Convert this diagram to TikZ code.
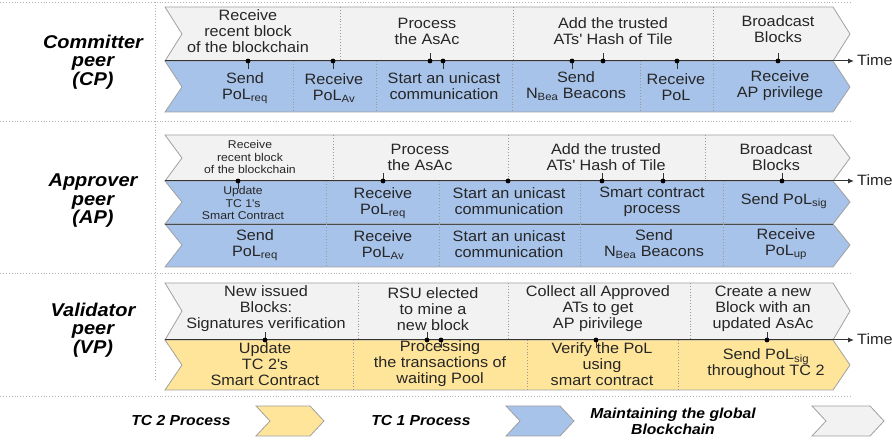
\documentclass[tikz,border=0pt]{standalone}
\usepackage{fontspec}
\setmainfont{Liberation Sans}[FakeStretch=1.08]
\usetikzlibrary{arrows.meta}

\definecolor{chaingray}{HTML}{F2F2F2}
\definecolor{tcblue}{HTML}{A7C3EA}
\definecolor{tcyellow}{HTML}{FFE59A}
\definecolor{edgegray}{HTML}{A0A0A0}

\tikzset{
  band/.style={draw=edgegray, line width=0.8pt},
  sep/.style={draw=gray!80, dotted, line width=0.9pt},
  frame/.style={draw=gray!60, dotted, line width=0.9pt},
  txt/.style={align=center, font=\fontsize{15}{16}\selectfont, text=black!85, inner sep=0pt},
  smalltxt/.style={align=center, font=\fontsize{11.3}{12.5}\selectfont, text=black!85, inner sep=0pt},
  peer/.style={align=center, font=\fontsize{18.5}{18.5}\selectfont\bfseries\itshape, inner sep=0pt},
  legend/.style={align=center, font=\fontsize{14.5}{16}\selectfont\bfseries\itshape, inner sep=0pt},
  timeline/.style={draw=black!80, line width=1pt, -{Latex[length=6pt,width=5pt]}},
  event/.style={circle, fill=black, inner sep=0pt, minimum size=4.8pt},
  tick/.style={draw=black!80, line width=0.8pt},
}

\begin{document}
\begin{tikzpicture}[x=1pt, y=-1pt]
  \useasboundingbox (0,0) rectangle (892,443);

  % frame lines
  \draw[frame] (0,2) -- (850,2);
  \draw[frame] (0,121) -- (850,121);
  \draw[frame] (0,273) -- (850,273);
  \draw[frame] (0,396) -- (850,396);
  \draw[frame] (155,2) -- (155,380);

  % peers
  \node[peer] (cp) at (93,62) {Committer\\peer\\(CP)};
  \node[peer] (ap) at (93,201) {Approver\\peer\\(AP)};
  \node[peer] (vp) at (93,330) {Validator\\peer\\(VP)};

  % ---- committer peer ----
  \filldraw[band, fill=chaingray] (165,7) -- (833,7) -- (850,34) -- (833,61) -- (165,61) -- (182,34) -- cycle;
  \filldraw[band, fill=tcblue] (165,61) -- (833,61) -- (850,87) -- (833,112) -- (165,112) -- (182,87) -- cycle;
  \draw[sep] (340,7) -- (340,61);
  \draw[sep] (513,7) -- (513,61);
  \draw[sep] (713,7) -- (713,61);
  \draw[sep] (293,61) -- (293,112);
  \draw[sep] (376,61) -- (376,112);
  \draw[sep] (512,61) -- (512,112);
  \draw[sep] (640,61) -- (640,112);
  \draw[sep] (713,61) -- (713,112);

  \node[txt] (cpg1) at (248,31) {Receive\\recent block\\of the blockchain};
  \node[txt] (cpg2) at (427,31) {Process\\the AsAc};
  \node[txt] (cpg3) at (613,31) {Add the trusted\\ATs\textquotesingle{} Hash of Tile};
  \node[txt] (cpg4) at (778,29) {Broadcast\\Blocks};
  \node[txt] (cpb1) at (245,88) {Send\\PoL\textsubscript{req}};
  \node[txt] (cpb2) at (334,88) {Receive\\PoL\textsubscript{Av}};
  \node[txt] (cpb3) at (444,86) {Start an unicast\\communication};
  \node[txt] (cpb4) at (576,86) {Send\\N\textsubscript{Bea} Beacons};
  \node[txt] (cpb5) at (676,87) {Receive\\PoL};
  \node[txt] (cpb6) at (780,86) {Receive\\AP privilege};

  \coordinate (cpstart) at (165,61);
  \coordinate (cpend) at (854,61);
  \draw[timeline] (cpstart) -- (cpend);
  \node[txt, anchor=west] (cptime) at (857,60) {Time};

  \draw[tick] (248,61) -- ++(0,8);
  \draw[tick] (333,61) -- ++(0,8);
  \draw[tick] (430,61) -- ++(0,-8);
  \draw[tick] (443,61) -- ++(0,8);
  \draw[tick] (572,61) -- ++(0,8);
  \draw[tick] (603,61) -- ++(0,-8);
  \draw[tick] (677,61) -- ++(0,8);
  \draw[tick] (778,61) -- ++(0,-8);
  \node[event] (cpe1) at (248,61) {};
  \node[event] (cpe2) at (333,61) {};
  \node[event] (cpe3) at (430,61) {};
  \node[event] (cpe4) at (443,61) {};
  \node[event] (cpe5) at (572,61) {};
  \node[event] (cpe6) at (603,61) {};
  \node[event] (cpe7) at (677,61) {};
  \node[event] (cpe8) at (778,61) {};

  % ---- approver peer ----
  \filldraw[band, fill=chaingray] (165,135) -- (833,135) -- (850,158) -- (833,181) -- (165,181) -- (182,158) -- cycle;
  \filldraw[band, fill=tcblue] (165,181) -- (833,181) -- (850,202) -- (833,224) -- (165,224) -- (182,202) -- cycle;
  \filldraw[band, fill=tcblue] (165,224) -- (833,224) -- (850,245) -- (833,267) -- (165,267) -- (182,245) -- cycle;
  \draw[black!70, line width=0.9pt] (165,224) -- (833,224);
  \draw[sep] (333,135) -- (333,181);
  \draw[sep] (508,135) -- (508,181);
  \draw[sep] (705,135) -- (705,181);
  \draw[sep] (326,181) -- (326,267);
  \draw[sep] (439,181) -- (439,267);
  \draw[sep] (580,181) -- (580,267);
  \draw[sep] (723,181) -- (723,267);

  \node[smalltxt] (apg1) at (250,157) {Receive\\recent block\\of the blockchain};
  \node[txt] (apg2) at (420,157) {Process\\the AsAc};
  \node[txt] (apg3) at (606,157) {Add the trusted\\ATs\textquotesingle{} Hash of Tile};
  \node[txt] (apg4) at (776,157) {Broadcast\\Blocks};
  \node[smalltxt] (apb1) at (243,203) {Update\\TC 1\textquotesingle{}s\\Smart Contract};
  \node[txt] (apb2) at (383,203) {Receive\\PoL\textsubscript{req}};
  \node[txt] (apb3) at (509,201) {Start an unicast\\communication};
  \node[txt] (apb4) at (652,202) {Smart contract\\process};
  \node[txt] (apb5) at (784,201) {Send PoL\textsubscript{sig}};
  \node[txt] (apc1) at (255,245) {Send\\PoL\textsubscript{req}};
  \node[txt] (apc2) at (383,245) {Receive\\PoL\textsubscript{Av}};
  \node[txt] (apc3) at (509,244) {Start an unicast\\communication};
  \node[txt] (apc4) at (654,244) {Send\\N\textsubscript{Bea} Beacons};
  \node[txt] (apc5) at (786,244) {Receive\\PoL\textsubscript{up}};

  \coordinate (apstart) at (165,181);
  \coordinate (apend) at (854,181);
  \draw[timeline] (apstart) -- (apend);
  \node[txt, anchor=west] (aptime) at (857,180) {Time};

  \draw[tick] (238,181) -- ++(0,8);
  \draw[tick] (383,181) -- ++(0,-8);
  \draw[tick] (602,181) -- ++(0,-8);
  \draw[tick] (663,181) -- ++(0,-8);
  \draw[tick] (782,181) -- ++(0,-8);
  \node[event] (ape1) at (238,181) {};
  \node[event] (ape2) at (383,181) {};
  \node[event] (ape3) at (508,181) {};
  \node[event] (ape4) at (602,181) {};
  \node[event] (ape5) at (663,181) {};
  \node[event] (ape6) at (782,181) {};

  % ---- validator peer ----
  \filldraw[band, fill=chaingray] (165,283) -- (833,283) -- (850,311) -- (833,340) -- (165,340) -- (182,311) -- cycle;
  \filldraw[band, fill=tcyellow] (165,340) -- (833,340) -- (850,365) -- (833,390) -- (165,390) -- (182,365) -- cycle;
  \draw[sep] (358,283) -- (358,340);
  \draw[sep] (508,283) -- (508,340);
  \draw[sep] (690,283) -- (690,340);
  \draw[sep] (353,340) -- (353,390);
  \draw[sep] (527,340) -- (527,390);
  \draw[sep] (678,340) -- (678,390);

  \node[txt] (vpg1) at (266,309) {New issued\\Blocks:\\Signatures verification};
  \node[txt] (vpg2) at (433,309) {RSU elected\\to mine a\\new block};
  \node[txt] (vpg3) at (598,309) {Collect all Approved\\ATs to get\\AP pirivilege};
  \node[txt] (vpg4) at (763,309) {Create a new\\Block with an\\updated AsAc};
  \node[txt] (vpy1) at (265,364) {Update\\TC 2\textquotesingle{}s\\Smart Contract};
  \node[txt] (vpy2) at (440,364) {Processing\\the transactions of\\waiting Pool};
  \node[txt] (vpy3) at (602,364) {Verify the PoL\\using\\smart contract};
  \node[txt] (vpy4) at (766,364) {Send PoL\textsubscript{sig}\\throughout TC 2};

  \coordinate (vpstart) at (165,340);
  \coordinate (vpend) at (854,340);
  \draw[timeline] (vpstart) -- (vpend);
  \node[txt, anchor=west] (vptime) at (857,339) {Time};

  \draw[tick] (265,340) -- ++(0,-8);
  \draw[tick] (427,340) -- ++(0,-8);
  \draw[tick] (441,340) -- ++(0,8);
  \draw[tick] (596,340) -- ++(0,8);
  \draw[tick] (767,340) -- ++(0,-8);
  \node[event] (vpe1) at (265,340) {};
  \node[event] (vpe2) at (427,340) {};
  \node[event] (vpe3) at (441,340) {};
  \node[event] (vpe4) at (596,340) {};
  \node[event] (vpe5) at (767,340) {};

  % ---- legend ----
  \node[legend] (lgtc2) at (181,421) {TC 2 Process};
  \filldraw[band, fill=tcyellow] (256,406) -- (310,406) -- (324,421) -- (310,436) -- (256,436) -- (270,421) -- cycle;
  \node[legend] (lgtc1) at (421,421) {TC 1 Process};
  \filldraw[band, fill=tcblue] (506,406) -- (560,406) -- (574,421) -- (560,436) -- (506,436) -- (520,421) -- cycle;
  \node[legend] (lgchain) at (673,421) {Maintaining the global\\Blockchain};
  \filldraw[band, fill=chaingray] (812,406) -- (870,406) -- (884,421) -- (870,436) -- (812,436) -- (826,421) -- cycle;
\end{tikzpicture}
\end{document}
